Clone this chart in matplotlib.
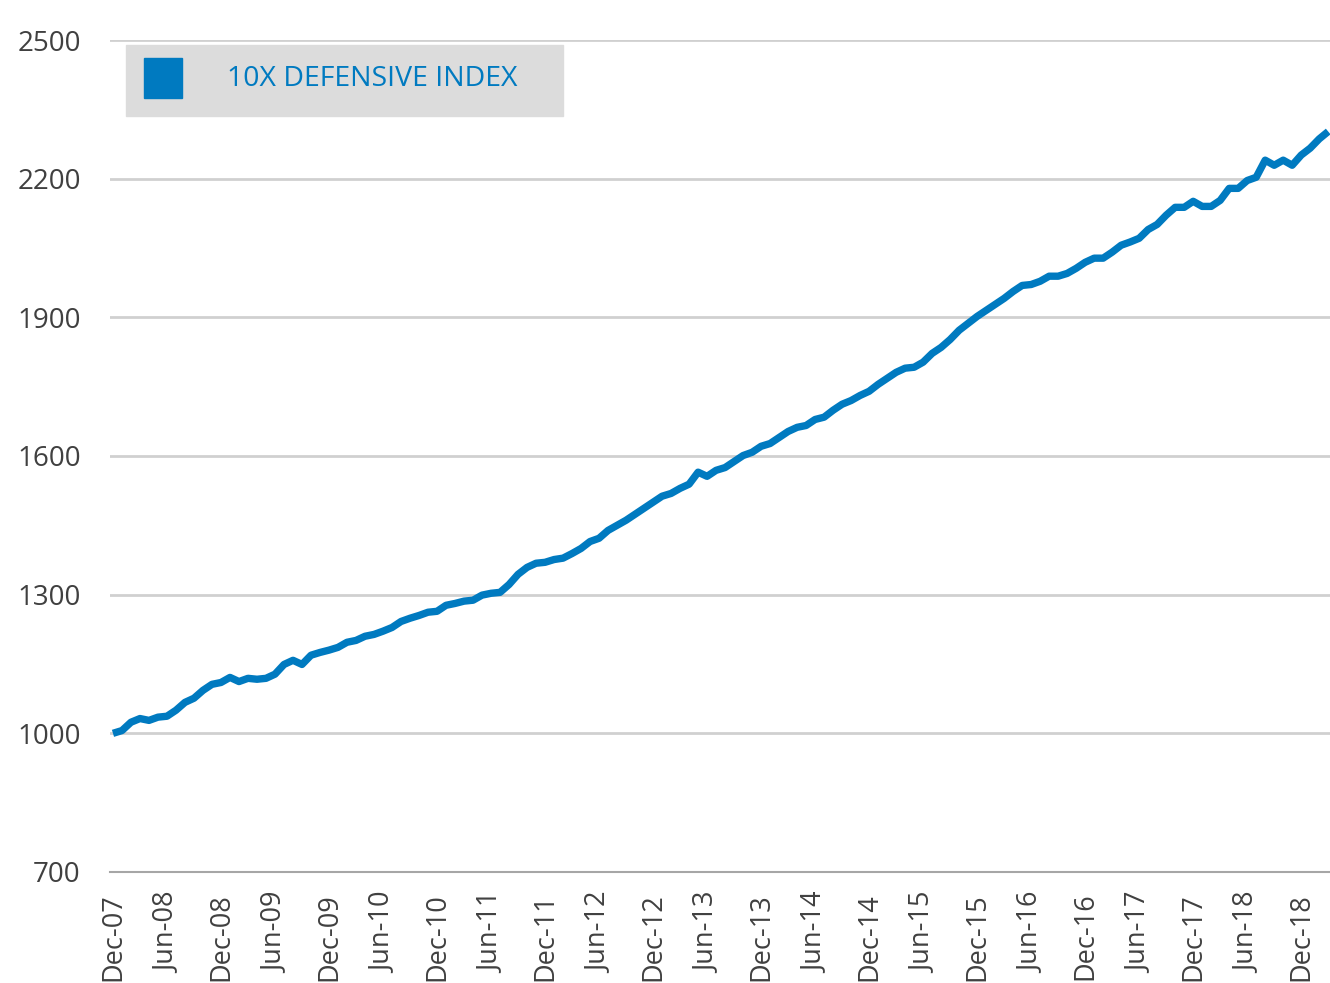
import matplotlib.pyplot as plt
from matplotlib.patches import Rectangle

# monthly index values, Dec-07 .. Mar-19
index_values = [
    1000, 1006, 1024, 1032, 1028, 1035, 1037, 1050, 1067, 1076,
    1093, 1106, 1110, 1121, 1112, 1119, 1117, 1119, 1128, 1149,
    1158, 1149, 1169, 1175, 1180, 1186, 1197, 1201, 1210, 1214,
    1221, 1229, 1242, 1249, 1255, 1262, 1264, 1277, 1281, 1286,
    1288, 1299, 1303, 1305, 1322, 1344, 1359, 1368, 1370, 1376,
    1379, 1389, 1400, 1415, 1422, 1439, 1450, 1461, 1474, 1487,
    1500, 1513, 1519, 1530, 1539, 1565, 1556, 1569, 1575, 1588,
    1601, 1608, 1621, 1627, 1640, 1653, 1662, 1666, 1679, 1684,
    1699, 1712, 1720, 1731, 1740, 1755, 1768, 1781, 1790, 1792,
    1803, 1822, 1835, 1852, 1872, 1887, 1902, 1915, 1928, 1941,
    1956, 1969, 1971, 1978, 1989, 1989, 1995, 2006, 2019, 2028,
    2028, 2041, 2056, 2063, 2071, 2090, 2101, 2121, 2138, 2138,
    2151, 2140, 2140, 2153, 2179, 2179, 2196, 2203, 2240, 2229,
    2240, 2229, 2251, 2266, 2286, 2302,
]
tick_labels = ['Dec-07', 'Jun-08', 'Dec-08', 'Jun-09', 'Dec-09', 'Jun-10',
               'Dec-10', 'Jun-11', 'Dec-11', 'Jun-12', 'Dec-12', 'Jun-13',
               'Dec-13', 'Jun-14', 'Dec-14', 'Jun-15', 'Dec-15', 'Jun-16',
               'Dec-16', 'Jun-17', 'Dec-17', 'Jun-18', 'Dec-18']
y_ticks = [700, 1000, 1300, 1600, 1900, 2200, 2500]

BLUE = '#007AC0'
TXT = '#404040'
plt.rcParams['font.family'] = ['Open Sans', 'DejaVu Sans']

W, H = 1330, 983
fig = plt.figure(figsize=(W / 100, H / 100), dpi=100)
ax = fig.add_axes([110 / W, 1 - 872 / H, 1 - 110 / W, (872 - 40) / H])

x = list(range(len(index_values)))
ax.plot(x, index_values, color=BLUE, lw=5.3, solid_capstyle='butt', zorder=3)

ax.set_xlim(-0.33, 135.2)
ax.set_ylim(700, 2500)
ax.set_yticks(y_ticks)
ax.set_yticklabels([str(v) for v in y_ticks], fontsize=20, color=TXT)
ax.set_xticks(range(0, 6 * len(tick_labels), 6))
ax.set_xticklabels(tick_labels, rotation=90, fontsize=19.5, color=TXT)
ax.tick_params(axis='y', length=0, pad=21)
ax.tick_params(axis='x', length=0, pad=15)

ax.grid(axis='y', color='#D0D0D0', lw=2)
ax.set_axisbelow(True)
for s in ['top', 'right', 'left']:
    ax.spines[s].set_visible(False)
ax.spines['bottom'].set_color('#A6A6A6')
ax.spines['bottom'].set_linewidth(1.5)

# legend box
fig.patches.append(Rectangle((126 / W, 1 - 116 / H), (563 - 126) / W, (116 - 45) / H,
                             transform=fig.transFigure, color='#DCDCDC', zorder=5))
fig.patches.append(Rectangle((144 / W, 1 - 98 / H), 38 / W, 40 / H,
                             transform=fig.transFigure, color=BLUE, zorder=6))
fig.text(227 / W, 1 - 79 / H, '10X DEFENSIVE INDEX', color=BLUE, fontsize=20.5,
         va='center', ha='left', zorder=7)

fig.savefig('out.png', dpi=100)
